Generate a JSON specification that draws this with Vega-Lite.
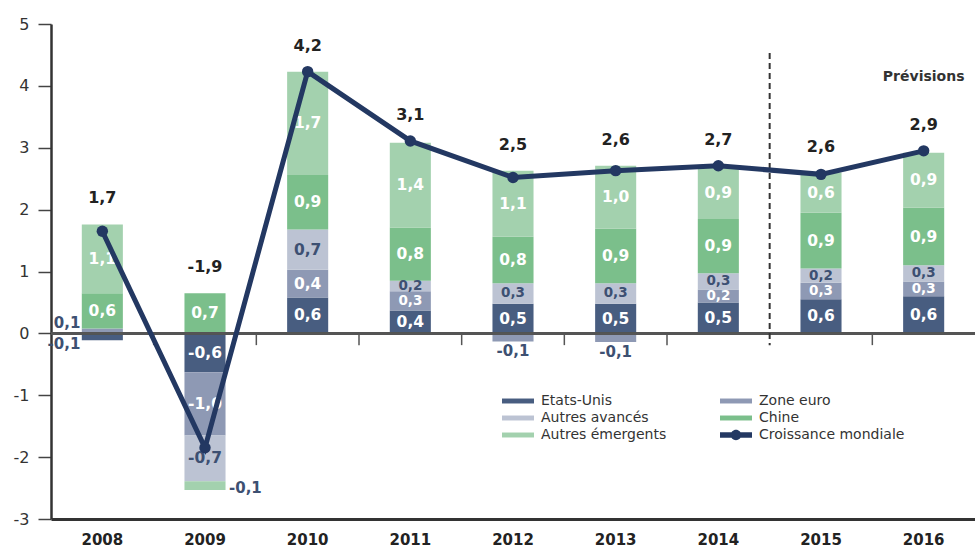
{
  "$schema": "https://vega.github.io/schema/vega-lite/v6.json",
  "width": 924,
  "height": 495,
  "autosize": {"type": "none"},
  "padding": {"left": 51, "top": 24, "right": 0, "bottom": 28},
  "background": "white",
  "config": {
    "view": {"stroke": null},
    "font": "DejaVu Sans",
    "axisX": {"domainColor": "#333333", "domainWidth": 3, "ticks": false, "labelFont": "DejaVu Sans", "labelFontWeight": "bold", "labelFontSize": 15, "labelColor": "#222222", "labelPadding": 13, "labelAngle": 0, "grid": false},
    "axisY": {"domainColor": "#333333", "domainWidth": 2.5, "tickColor": "#444444", "tickWidth": 1.5, "tickSize": 13, "labelFont": "DejaVu Sans", "labelFontSize": 16, "labelColor": "#333333", "labelPadding": 9, "grid": false, "tickCount": 8, "labelExpr": "replace(datum.label, '\u2212', '-')"}
  },
  "data": {"values": [
    {"year": "2008", "serie": "Etats-Unis", "value": -0.11, "label": "-0,1"},
    {"year": "2008", "serie": "Zone euro", "value": 0.08, "label": "0,1"},
    {"year": "2008", "serie": "Chine", "value": 0.57, "label": "0,6"},
    {"year": "2008", "serie": "Autres émergents", "value": 1.11, "label": "1,1"},
    {"year": "2008", "serie": "Croissance mondiale", "value": 1.65, "label": "1,7"},
    {"year": "2009", "serie": "Etats-Unis", "value": -0.63, "label": "-0,6"},
    {"year": "2009", "serie": "Zone euro", "value": -1.02, "label": "-1,0"},
    {"year": "2009", "serie": "Autres avancés", "value": -0.74, "label": "-0,7"},
    {"year": "2009", "serie": "Chine", "value": 0.65, "label": "0,7"},
    {"year": "2009", "serie": "Autres émergents", "value": -0.14, "label": "-0,1"},
    {"year": "2009", "serie": "Croissance mondiale", "value": -1.85, "label": "-1,9"},
    {"year": "2010", "serie": "Etats-Unis", "value": 0.58, "label": "0,6"},
    {"year": "2010", "serie": "Zone euro", "value": 0.45, "label": "0,4"},
    {"year": "2010", "serie": "Autres avancés", "value": 0.65, "label": "0,7"},
    {"year": "2010", "serie": "Chine", "value": 0.88, "label": "0,9"},
    {"year": "2010", "serie": "Autres émergents", "value": 1.67, "label": "1,7"},
    {"year": "2010", "serie": "Croissance mondiale", "value": 4.23, "label": "4,2"},
    {"year": "2011", "serie": "Etats-Unis", "value": 0.37, "label": "0,4"},
    {"year": "2011", "serie": "Zone euro", "value": 0.31, "label": "0,3"},
    {"year": "2011", "serie": "Autres avancés", "value": 0.17, "label": "0,2"},
    {"year": "2011", "serie": "Chine", "value": 0.86, "label": "0,8"},
    {"year": "2011", "serie": "Autres émergents", "value": 1.37, "label": "1,4"},
    {"year": "2011", "serie": "Croissance mondiale", "value": 3.11, "label": "3,1"},
    {"year": "2012", "serie": "Etats-Unis", "value": 0.48, "label": "0,5"},
    {"year": "2012", "serie": "Zone euro", "value": -0.13, "label": "-0,1"},
    {"year": "2012", "serie": "Autres avancés", "value": 0.33, "label": "0,3"},
    {"year": "2012", "serie": "Chine", "value": 0.75, "label": "0,8"},
    {"year": "2012", "serie": "Autres émergents", "value": 1.07, "label": "1,1"},
    {"year": "2012", "serie": "Croissance mondiale", "value": 2.52, "label": "2,5"},
    {"year": "2013", "serie": "Etats-Unis", "value": 0.48, "label": "0,5"},
    {"year": "2013", "serie": "Zone euro", "value": -0.14, "label": "-0,1"},
    {"year": "2013", "serie": "Autres avancés", "value": 0.33, "label": "0,3"},
    {"year": "2013", "serie": "Chine", "value": 0.88, "label": "0,9"},
    {"year": "2013", "serie": "Autres émergents", "value": 1.02, "label": "1,0"},
    {"year": "2013", "serie": "Croissance mondiale", "value": 2.63, "label": "2,6"},
    {"year": "2014", "serie": "Etats-Unis", "value": 0.5, "label": "0,5"},
    {"year": "2014", "serie": "Zone euro", "value": 0.21, "label": "0,2"},
    {"year": "2014", "serie": "Autres avancés", "value": 0.26, "label": "0,3"},
    {"year": "2014", "serie": "Chine", "value": 0.88, "label": "0,9"},
    {"year": "2014", "serie": "Autres émergents", "value": 0.85, "label": "0,9"},
    {"year": "2014", "serie": "Croissance mondiale", "value": 2.71, "label": "2,7"},
    {"year": "2015", "serie": "Etats-Unis", "value": 0.55, "label": "0,6"},
    {"year": "2015", "serie": "Zone euro", "value": 0.27, "label": "0,3"},
    {"year": "2015", "serie": "Autres avancés", "value": 0.23, "label": "0,2"},
    {"year": "2015", "serie": "Chine", "value": 0.9, "label": "0,9"},
    {"year": "2015", "serie": "Autres émergents", "value": 0.65, "label": "0,6"},
    {"year": "2015", "serie": "Croissance mondiale", "value": 2.57, "label": "2,6"},
    {"year": "2016", "serie": "Etats-Unis", "value": 0.6, "label": "0,6"},
    {"year": "2016", "serie": "Zone euro", "value": 0.24, "label": "0,3"},
    {"year": "2016", "serie": "Autres avancés", "value": 0.26, "label": "0,3"},
    {"year": "2016", "serie": "Chine", "value": 0.93, "label": "0,9"},
    {"year": "2016", "serie": "Autres émergents", "value": 0.89, "label": "0,9"},
    {"year": "2016", "serie": "Croissance mondiale", "value": 2.95, "label": "2,9"}
  ]},
  "layer": [
    {
      "transform": [
        {"filter": "datum.serie !== 'Croissance mondiale'"},
        {"calculate": "indexof(['Etats-Unis','Zone euro','Autres avancés','Chine','Autres émergents'], datum.serie)", "as": "ord"},
        {"stack": "value", "groupby": ["year"], "sort": [{"field": "ord", "order": "ascending"}], "as": ["v0", "v1"], "offset": "zero"},
        {"calculate": "(datum.v0 + datum.v1) / 2", "as": "mid"}
      ],
      "layer": [
        {
          "mark": {"type": "bar", "width": {"band": 0.4}},
          "encoding": {
            "x": {"field": "year", "type": "ordinal", "title": null, "scale": {"paddingInner": 0, "paddingOuter": 0}},
            "y": {"field": "v0", "type": "quantitative", "title": null, "scale": {"domain": [-3, 5], "nice": false, "zero": false}},
            "y2": {"field": "v1"},
            "color": {
              "field": "serie", "type": "nominal",
              "scale": {
                "domain": ["Etats-Unis", "Autres avancés", "Autres émergents", "Zone euro", "Chine", "Croissance mondiale"],
                "range": ["#485d80", "#bcc3d3", "#a3d1ae", "#8e99b4", "#7bbf8b", "#233862"]
              },
              "legend": {
                "orient": "none", "legendX": 451, "legendY": 369, "columns": 2, "columnPadding": 53, "rowPadding": 2,
                "title": null, "symbolSize": 256, "symbolType": "M-1,-0.31H3V0.31H-1Z", "symbolStrokeWidth": 0,
                "labelOffset": 23, "labelFont": "DejaVu Sans", "labelFontSize": 14, "labelColor": "#333333", "labelLimit": 300,
                "encode": {"symbols": {"update": {"shape": {"signal": "datum.value === 'Croissance mondiale' ? 'M-1,-0.34H3V0.34H-1Z M1.65,0A0.65,0.65 0 1,1 0.35,0A0.65,0.65 0 1,1 1.65,0Z' : 'M-1,-0.31H3V0.31H-1Z'"}}}}
              }
            }
          }
        },
        {
          "transform": [{"filter": "abs(datum.value) >= 0.15"}],
          "mark": {"type": "text", "font": "DejaVu Sans", "fontWeight": "bold", "baseline": "middle", "align": "center"},
          "encoding": {
            "x": {"field": "year", "type": "ordinal", "title": null},
            "y": {"field": "mid", "type": "quantitative", "title": null},
            "text": {"field": "label"},
            "size": {"condition": {"test": "abs(datum.value) < 0.35", "value": 13.5}, "value": 15.5},
            "color": {"condition": {"test": "datum.serie === 'Autres avancés'", "value": "#3d5072"}, "value": "#ffffff"}
          }
        },
        {
          "transform": [{"filter": "datum.year === '2008' && abs(datum.value) < 0.15 && datum.value > 0"}],
          "mark": {"type": "text", "font": "DejaVu Sans", "fontWeight": "bold", "fontSize": 15, "baseline": "alphabetic", "align": "right", "dx": -22, "color": "#3d5072"},
          "encoding": {
            "x": {"field": "year", "type": "ordinal", "title": null},
            "y": {"field": "v1", "type": "quantitative", "title": null},
            "text": {"field": "label"}
          }
        },
        {
          "transform": [{"filter": "datum.year === '2008' && abs(datum.value) < 0.15 && datum.value < 0"}],
          "mark": {"type": "text", "font": "DejaVu Sans", "fontWeight": "bold", "fontSize": 15, "baseline": "middle", "align": "right", "dx": -22, "dy": 4, "color": "#3d5072"},
          "encoding": {
            "x": {"field": "year", "type": "ordinal", "title": null},
            "y": {"field": "v1", "type": "quantitative", "title": null},
            "text": {"field": "label"}
          }
        },
        {
          "transform": [{"filter": "datum.year === '2009' && abs(datum.value) < 0.15"}],
          "mark": {"type": "text", "font": "DejaVu Sans", "fontWeight": "bold", "fontSize": 15, "baseline": "middle", "align": "left", "dx": 24, "dy": 2, "color": "#3d5072"},
          "encoding": {
            "x": {"field": "year", "type": "ordinal", "title": null},
            "y": {"field": "mid", "type": "quantitative", "title": null},
            "text": {"field": "label"}
          }
        },
        {
          "transform": [{"filter": "datum.year > '2009' && abs(datum.value) < 0.15"}],
          "mark": {"type": "text", "font": "DejaVu Sans", "fontWeight": "bold", "fontSize": 15, "baseline": "top", "align": "center", "dy": 3, "color": "#3d5072"},
          "encoding": {
            "x": {"field": "year", "type": "ordinal", "title": null},
            "y": {"field": "v1", "type": "quantitative", "title": null},
            "text": {"field": "label"}
          }
        }
      ]
    },
    {
      "mark": {"type": "rule", "color": "#555555", "strokeWidth": 1.5},
      "encoding": {"y": {"datum": 0}}
    },
    {
      "transform": [{"filter": "datum.serie === 'Etats-Unis' && datum.year !== '2008' && datum.year !== '2015'"}],
      "mark": {"type": "rule", "color": "#555555", "strokeWidth": 1.5},
      "encoding": {
        "x": {"field": "year", "type": "ordinal", "bandPosition": 0, "title": null},
        "y": {"datum": 0},
        "y2": {"datum": -0.19}
      }
    },
    {
      "transform": [{"filter": "datum.serie === 'Etats-Unis' && datum.year === '2015'"}],
      "mark": {"type": "rule", "color": "#333333", "strokeWidth": 2, "strokeDash": [6, 4]},
      "encoding": {
        "x": {"field": "year", "type": "ordinal", "bandPosition": 0, "title": null},
        "y": {"datum": 4.53},
        "y2": {"datum": -0.19}
      }
    },
    {
      "transform": [{"filter": "datum.serie === 'Croissance mondiale'"}],
      "mark": {"type": "line", "color": "#233862", "strokeWidth": 5},
      "encoding": {
        "x": {"field": "year", "type": "ordinal", "title": null},
        "y": {"field": "value", "type": "quantitative", "title": null}
      }
    },
    {
      "transform": [{"filter": "datum.serie === 'Croissance mondiale'"}],
      "mark": {"type": "point", "filled": true, "color": "#233862", "size": 130, "opacity": 1},
      "encoding": {
        "x": {"field": "year", "type": "ordinal", "title": null},
        "y": {"field": "value", "type": "quantitative", "title": null}
      }
    },
    {
      "transform": [
        {"calculate": "datum.serie === 'Croissance mondiale' ? 0 : max(datum.value, 0)", "as": "posv"},
        {"joinaggregate": [{"op": "sum", "field": "posv", "as": "postop"}], "groupby": ["year"]},
        {"filter": "datum.serie === 'Croissance mondiale'"},
        {"calculate": "max(datum.postop, datum.value)", "as": "labely"}
      ],
      "mark": {"type": "text", "font": "DejaVu Sans", "fontWeight": "bold", "fontSize": 16, "baseline": "middle", "align": "center", "dy": -26, "color": "#222222"},
      "encoding": {
        "x": {"field": "year", "type": "ordinal", "title": null},
        "y": {"field": "labely", "type": "quantitative", "title": null},
        "text": {"field": "label"}
      }
    },
    {
      "transform": [{"filter": "datum.serie === 'Etats-Unis' && datum.year === '2016'"}],
      "mark": {"type": "text", "font": "DejaVu Sans", "fontWeight": "bold", "fontSize": 14, "baseline": "middle", "align": "center", "color": "#333333"},
      "encoding": {
        "x": {"field": "year", "type": "ordinal", "title": null},
        "y": {"datum": 4.15},
        "text": {"value": "Prévisions"}
      }
    }
  ]
}
